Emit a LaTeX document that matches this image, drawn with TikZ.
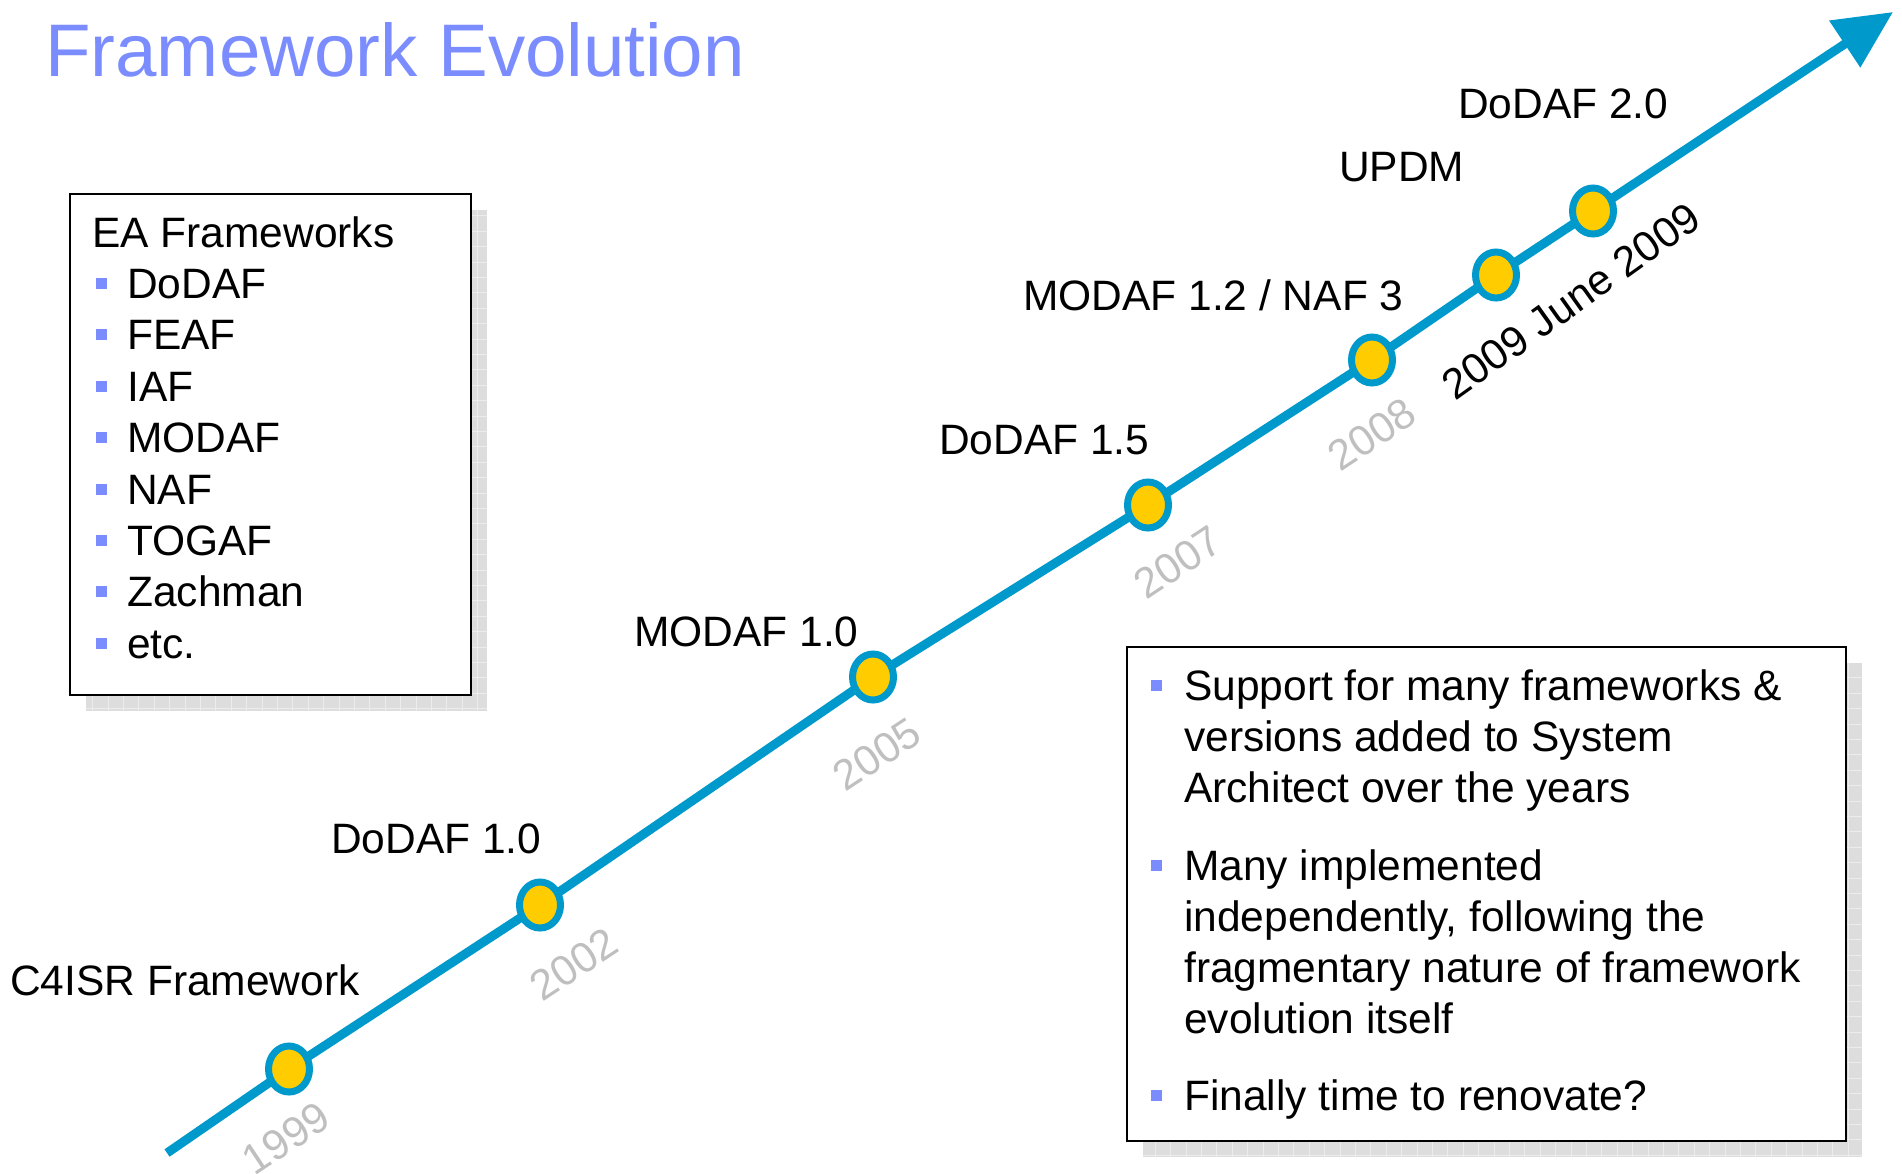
\documentclass[tikz,border=0pt]{standalone}
\usepackage{fontspec}
\setmainfont{Liberation Sans}
\usetikzlibrary{shapes.geometric,arrows.meta}

\definecolor{tlblue}{RGB}{0,153,204}
\definecolor{tlyellow}{RGB}{255,204,0}
\definecolor{titleblue}{RGB}{123,140,255}
\definecolor{yeargray}{RGB}{191,191,191}
\definecolor{shadowgray}{RGB}{221,221,221}
\definecolor{gridgray}{RGB}{236,236,236}

\tikzset{
  milestone/.style={ellipse, draw=tlblue, fill=tlyellow, line width=7pt,
    minimum width=41pt, minimum height=46pt, inner sep=0pt},
  release/.style={anchor=base west, inner sep=0pt, font=\fontsize{42.5}{51}\selectfont},
  year/.style={inner sep=0pt, rotate=33.5, font=\fontsize{42.5}{51}\selectfont},
  framebox/.style={rectangle, draw, line width=2.5pt, fill=white},
  shadowbox/.style={rectangle, fill=shadowgray},
  bullet/.style={rectangle, fill=titleblue, minimum size=11pt, inner sep=0pt},
}

\begin{document}
\begin{tikzpicture}[x=1pt, y=-1pt]
\useasboundingbox (0,0) rectangle (1902,1173);

% title
\node[anchor=base west, inner sep=0pt, text=titleblue,
	font=\fontsize{74.5}{90}\selectfont] (title) at (45,76) {Framework Evolution};

% left box
\node[shadowbox, minimum width=401pt, minimum height=501pt] (lshadow) at (286.5,460.5) {};
\draw[gridgray, step=15.4pt] (lshadow.south west) grid (lshadow.north east);
\node[framebox, minimum width=401pt, minimum height=501pt] (lbox) at (270.5,444.5) {};
\node[release] (ea) at (92,247) {EA Frameworks};
\foreach \name [count=\i] in {DoDAF,FEAF,IAF,MODAF,NAF,TOGAF,Zachman,etc.} {
	\node[release] (fw\i) at (127,{247+51.4*\i}) {\name};
	\node[bullet] (fb\i) at (101,{232+51.4*\i}) {};
}

% right box
\node[shadowbox, minimum width=719pt, minimum height=494pt] (rshadow) at (1502.5,910) {};
\draw[gridgray, step=15.4pt] (rshadow.south west) grid (rshadow.north east);
\node[framebox, minimum width=719pt, minimum height=494pt] (rbox) at (1486.5,894) {};
\foreach \txt/\y [count=\i] in {{Support for many frameworks \&}/700,
	{versions added to System}/751, {Architect over the years}/802,
	{Many implemented}/880, {independently, following the}/931,
	{fragmentary nature of framework}/982, {evolution itself}/1033,
	{Finally time to renovate?}/1110} {
	\node[release] (pt\i) at (1184,\y) {\txt};
}
\node[bullet] (rb1) at (1156,685) {};
\node[bullet] (rb2) at (1156,865) {};
\node[bullet] (rb3) at (1156,1095) {};

% timeline
\coordinate (start) at (167,1153);
\coordinate (tip) at (1893,12);
\foreach \yr/\x/\y in {1999/289/1069, 2002/540/905, 2005/873/677, 2007/1148/505,
	2008/1372/360, 2009/1496/275, june/1593/211}
	\coordinate (c\yr) at (\x,\y);
\draw[tlblue, line width=9pt, -{Triangle[length=58pt, width=54pt]}]
	(start) -- (c1999) -- (c2002) -- (c2005) -- (c2007) -- (c2008) -- (c2009) -- (cjune) -- (tip);
\foreach \yr in {1999,2002,2005,2007,2008,2009,june}
	\node[milestone] (m\yr) at (c\yr) {};

% releases
\node[release] (c4isr) at (10,995) {C4ISR Framework};
\node[release] (dodaf10) at (331,853) {DoDAF 1.0};
\node[release] (modaf10) at (634,646) {MODAF 1.0};
\node[release] (dodaf15) at (939,454) {DoDAF 1.5};
\node[release] (modaf12) at (1023,310) {MODAF 1.2 / NAF 3};
\node[release] (updm) at (1339,181) {UPDM};
\node[release] (dodaf20) at (1458,118) {DoDAF 2.0};

% years
\node[year, text=yeargray] (y1999) at (286,1138) {1999};
\node[year, text=yeargray] (y2002) at (574,964) {2002};
\node[year, text=yeargray] (y2005) at (877,754) {2005};
\node[year, text=yeargray] (y2007) at (1178,562) {2007};
\node[year, text=yeargray] (y2008) at (1372,434) {2008};
\node[year, rotate=2] (y2009) at (1571,301) {2009 June 2009};
\end{tikzpicture}
\end{document}
